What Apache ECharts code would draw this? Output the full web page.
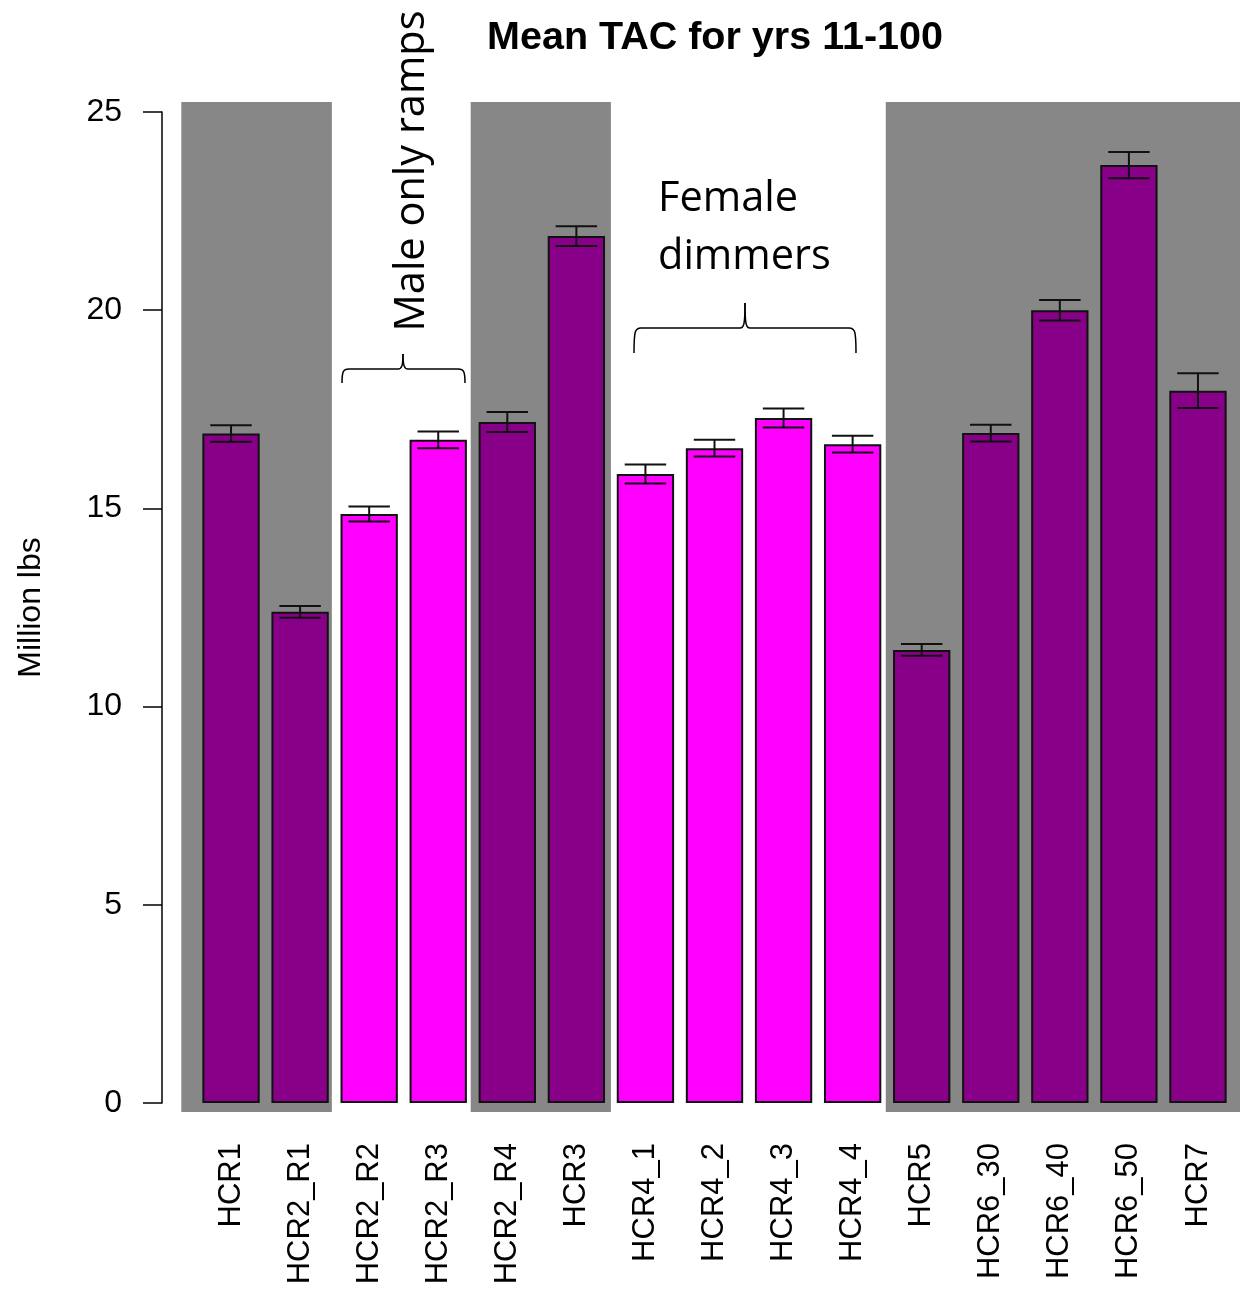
<!DOCTYPE html>
<html>
<head>
<meta charset="utf-8">
<script src="https://cdn.jsdelivr.net/npm/echarts@6/dist/echarts.min.js"></script>
<style>
    html, body { margin: 0; padding: 0; background: #fff; }
    #chart { width: 1240px; height: 1293px; }
</style>
</head>
<body>
<div id="chart"></div>
<script type="text/javascript">
    // data
    var categories = ['HCR1', 'HCR2_R1', 'HCR2_R2', 'HCR2_R3', 'HCR2_R4', 'HCR3',
        'HCR4_1', 'HCR4_2', 'HCR4_3', 'HCR4_4', 'HCR5', 'HCR6_30', 'HCR6_40', 'HCR6_50', 'HCR7'];
    var meanTAC = [16.89, 12.39, 14.86, 16.73, 17.18, 21.87, 15.87, 16.52, 17.28, 16.62, 11.43, 16.90, 20.0, 23.66, 17.97];
    var errHalf = [0.21, 0.15, 0.19, 0.21, 0.25, 0.25, 0.24, 0.21, 0.24, 0.21, 0.15, 0.21, 0.26, 0.33, 0.44];
    // 1 = highlighted (magenta) group
    var groupFlag = [0, 0, 1, 1, 0, 0, 1, 1, 1, 1, 0, 0, 0, 0, 0];
    var yTicks = [0, 5, 10, 15, 20, 25];
    // grey shaded bands, in category index units [from, to]
    var bandRanges = [[-0.72, 1.46], [3.47, 5.50], [9.48, 14.63]];

    var purple = '#880088';
    var magenta = '#ff00ff';

    var chart = echarts.init(document.getElementById('chart'));

    var barData = meanTAC.map(function (v, i) {
        return { value: v, itemStyle: { color: groupFlag[i] ? magenta : purple } };
    });
    var errData = meanTAC.map(function (v, i) {
        return [i, v - errHalf[i], v + errHalf[i]];
    });

    // curly brace (opening downward) built from curves and lines
    function brace(x0, x1, xm, yEnd, yLine, yTip) {
        var st = { fill: null, stroke: '#000', lineWidth: 1.5 };
        var r = 7;
        return {
            type: 'group', z: 10,
            children: [
                { type: 'bezierCurve', shape: { x1: x0, y1: yEnd, cpx1: x0, cpy1: yLine + 3, cpx2: x0 + 1, cpy2: yLine, x2: x0 + r, y2: yLine }, style: st },
                { type: 'line', shape: { x1: x0 + r, y1: yLine, x2: xm - 5, y2: yLine }, style: st },
                { type: 'bezierCurve', shape: { x1: xm - 5, y1: yLine, cpx1: xm - 1, cpy1: yLine, cpx2: xm, cpy2: yLine - 4, x2: xm, y2: yTip }, style: st },
                { type: 'bezierCurve', shape: { x1: xm, y1: yTip, cpx1: xm, cpy1: yLine - 4, cpx2: xm + 1, cpy2: yLine, x2: xm + 5, y2: yLine }, style: st },
                { type: 'line', shape: { x1: xm + 5, y1: yLine, x2: x1 - r, y2: yLine }, style: st },
                { type: 'bezierCurve', shape: { x1: x1 - r, y1: yLine, cpx1: x1 - 1, cpy1: yLine, cpx2: x1, cpy2: yLine + 3, x2: x1, y2: yEnd }, style: st }
            ]
        };
    }

    var option = {
        animation: false,
        title: {
            text: 'Mean TAC for yrs 11-100',
            left: 710, top: 13, textAlign: 'center',
            textStyle: { fontFamily: 'Liberation Sans', fontSize: 39.5, fontWeight: 'bold', color: '#000' }
        },
        grid: { left: 196.5, right: 7.5, top: 112, bottom: 190 },
        xAxis: [{
            type: 'category',
            data: categories,
            axisLine: { show: false },
            axisTick: { show: false },
            axisLabel: {
                rotate: 90, margin: 40, interval: 0,
                fontFamily: 'Liberation Sans', fontSize: 31, color: '#000'
            }
        }, {
            type: 'value', min: -0.5, max: 14.5, show: false
        }],
        yAxis: {
            type: 'value', min: 0, max: 25, interval: 5,
            offset: 34.5,
            name: 'Million lbs', nameLocation: 'middle', nameGap: 115,
            nameTextStyle: { fontFamily: 'Liberation Sans', fontSize: 32, color: '#000' },
            axisLine: { show: true, onZero: false, lineStyle: { color: '#000', width: 1.5 } },
            axisTick: { show: true, length: 19, lineStyle: { color: '#000', width: 1.5 } },
            axisLabel: {
                margin: 40, fontFamily: 'Liberation Sans', fontSize: 32, color: '#000',
                formatter: function (v) { return yTicks.indexOf(v) >= 0 ? String(v) : ''; }
            },
            splitLine: { show: false }
        },
        series: [{
            type: 'custom',
            xAxisIndex: 1,
            clip: false,
            z: 1,
            silent: true,
            data: bandRanges,
            renderItem: function (params, api) {
                var p0 = api.coord([api.value(0), 25.25]);
                var p1 = api.coord([api.value(1), -0.23]);
                return {
                    type: 'rect',
                    shape: { x: p0[0], y: p0[1], width: p1[0] - p0[0], height: p1[1] - p0[1] },
                    style: { fill: '#878787' }
                };
            }
        }, {
            type: 'bar',
            data: barData,
            barCategoryGap: '17%',
            z: 2,
            itemStyle: { borderColor: '#111', borderWidth: 2 }
        }, {
            type: 'custom',
            z: 3,
            data: errData,
            renderItem: function (params, api) {
                var lo = api.coord([api.value(0), api.value(1)]);
                var hi = api.coord([api.value(0), api.value(2)]);
                var half = api.size([1, 0])[0] * 0.30;
                var st = { stroke: '#111', lineWidth: 2 };
                return {
                    type: 'group',
                    children: [
                        { type: 'line', shape: { x1: hi[0], y1: hi[1], x2: lo[0], y2: lo[1] }, style: st },
                        { type: 'line', shape: { x1: hi[0] - half, y1: hi[1], x2: hi[0] + half, y2: hi[1] }, style: st },
                        { type: 'line', shape: { x1: lo[0] - half, y1: lo[1], x2: lo[0] + half, y2: lo[1] }, style: st }
                    ]
                };
            }
        }],
        graphic: [{
            type: 'text',
            x: 412, y: 171, rotation: Math.PI / 2,
            style: {
                text: 'Male only ramps', fill: '#000',
                font: '41.5px "Open Sans"', textAlign: 'center', textVerticalAlign: 'middle'
            },
            z: 10
        }, {
            type: 'text',
            left: 658, top: 170,
            style: {
                text: 'Female\ndimmers', fill: '#000', lineHeight: 58,
                font: '41.5px "Open Sans"'
            },
            z: 10
        },
            brace(342, 465, 403, 383, 369, 354),
            brace(634, 856, 745, 353, 328, 303)
        ]
    };

    chart.setOption(option);
</script>
</body>
</html>
